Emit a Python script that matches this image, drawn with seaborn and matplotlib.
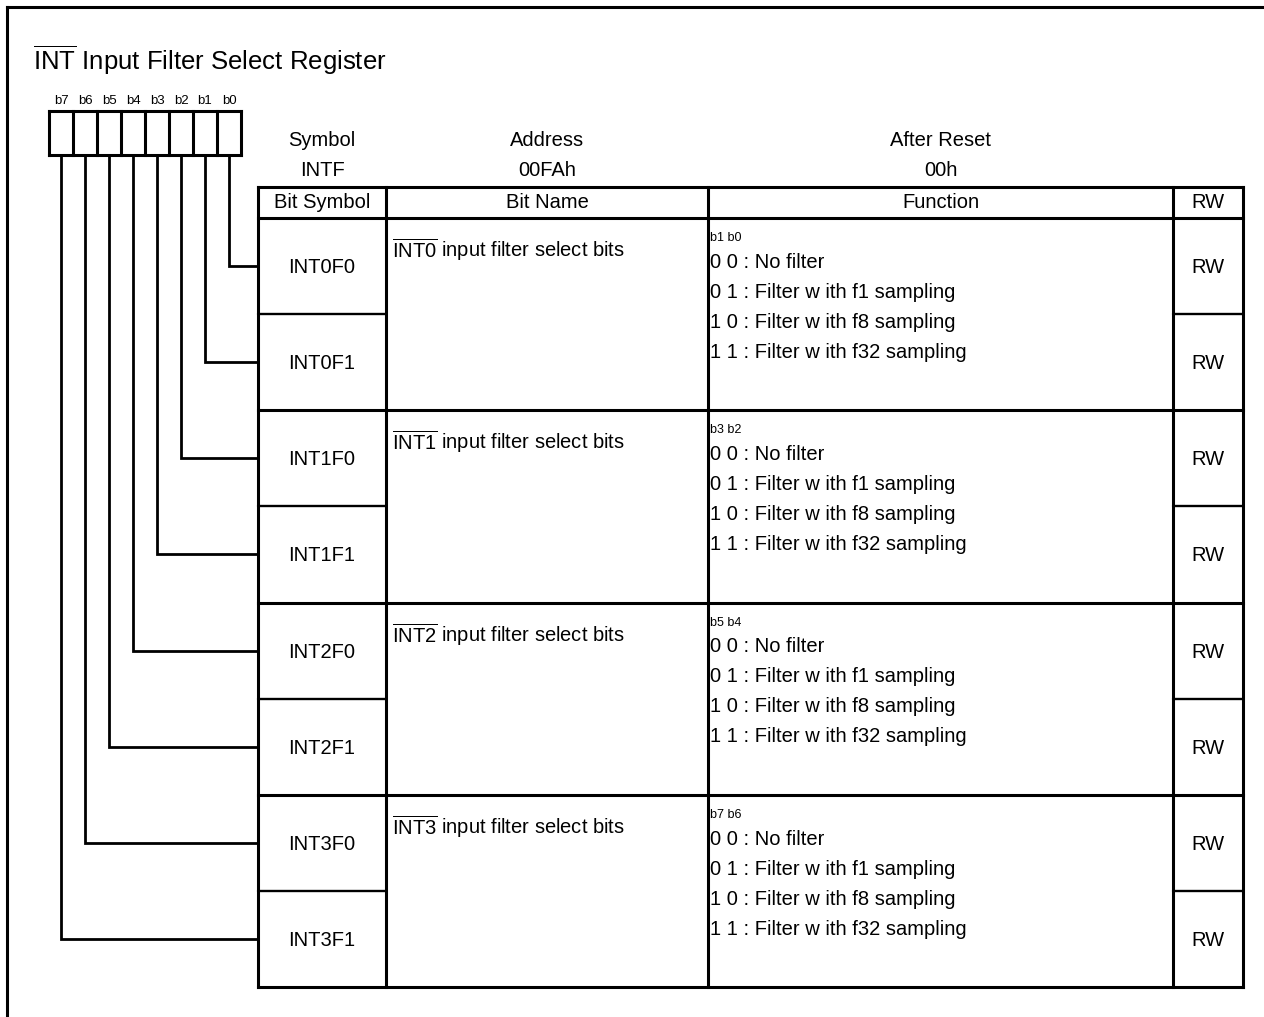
import matplotlib.pyplot as plt
import seaborn as sns

# register description
title_text = r"$\overline{\mathrm{INT}}$ Input Filter Select Register"
bit_labels = ["b7", "b6", "b5", "b4", "b3", "b2", "b1", "b0"]
header_titles = ["Symbol", "Address", "After Reset"]
header_values = ["INTF", "00FAh", "00h"]
column_names = ["Bit Symbol", "Bit Name", "Function", "RW"]
bit_symbols = ["INT0F0", "INT0F1", "INT1F0", "INT1F1",
               "INT2F0", "INT2F1", "INT3F0", "INT3F1"]
bit_names = [r"$\overline{\mathrm{INT0}}$ input filter select bits",
             r"$\overline{\mathrm{INT1}}$ input filter select bits",
             r"$\overline{\mathrm{INT2}}$ input filter select bits",
             r"$\overline{\mathrm{INT3}}$ input filter select bits"]
function_bits = ["b1 b0", "b3 b2", "b5 b4", "b7 b6"]
function_lines = ["0 0 : No filter",
                  "0 1 : Filter w ith f1 sampling",
                  "1 0 : Filter w ith f8 sampling",
                  "1 1 : Filter w ith f32 sampling"]
rw_values = ["RW", "RW", "RW", "RW", "RW", "RW", "RW", "RW"]

# layout (pixel units)
W, H = 1264, 1017
col_edges = [258, 386, 708, 1173, 1243]
header_top, header_bottom, table_bottom = 187, 218, 987
row_h = (table_bottom - header_bottom) / len(bit_symbols)
box_left, box_w, box_top, box_bottom = 49, 24, 111, 155
LW = 2.2
FS = 14.5


def main():
    sns.set_theme(style="white")
    plt.rcParams["font.family"] = ["Liberation Sans", "DejaVu Sans"]
    plt.rcParams["mathtext.fontset"] = "custom"
    plt.rcParams["mathtext.rm"] = "Liberation Sans"
    plt.rcParams["text.color"] = "black"

    fig = plt.figure(figsize=(W / 100, H / 100), dpi=100)
    ax = fig.add_axes([0, 0, 1, 1])
    ax.set_xlim(0, W)
    ax.set_ylim(H, 0)
    ax.axis("off")
    line = dict(color="black", lw=LW, solid_capstyle="projecting")

    # frame (top and left only)
    ax.plot([7, W], [7, 7], **line)
    ax.plot([7, 7], [7, H], **line)

    ax.text(33, 70, title_text, fontsize=18.5, ha="left", va="baseline")

    # bit boxes
    n_bits = len(bit_labels)
    ax.plot([box_left, box_left + n_bits * box_w], [box_top, box_top], **line)
    ax.plot([box_left, box_left + n_bits * box_w], [box_bottom, box_bottom], **line)
    for j in range(n_bits + 1):
        x = box_left + j * box_w
        ax.plot([x, x], [box_top, box_bottom], **line)
    for j, lab in enumerate(bit_labels):
        xc = box_left + (j + 0.5) * box_w
        ax.text(xc, 104, lab, fontsize=9.5, ha="center", va="baseline")
        bit_no = n_bits - 1 - j
        yc = header_bottom + (bit_no + 0.5) * row_h
        ax.plot([xc, xc, col_edges[0]], [box_bottom, yc, yc],
                color="black", lw=2.0, solid_joinstyle="miter")

    # header above table
    for k in range(3):
        xc = (col_edges[k] + col_edges[k + 1]) / 2
        ax.text(xc, 146, header_titles[k], fontsize=FS, ha="center", va="baseline")
        ax.text(xc, 176, header_values[k], fontsize=FS, ha="center", va="baseline")

    # table header row
    ax.plot([col_edges[0], col_edges[-1]], [header_top, header_top], **line)
    ax.plot([col_edges[0], col_edges[-1]], [header_bottom, header_bottom], **line)
    for k, name in enumerate(column_names):
        xc = (col_edges[k] + col_edges[k + 1]) / 2
        ax.text(xc, 208, name, fontsize=FS, ha="center", va="baseline")
    for x in col_edges:
        ax.plot([x, x], [header_top, table_bottom], **line)

    # rows
    for i, sym in enumerate(bit_symbols):
        top = header_bottom + i * row_h
        yc = top + row_h / 2
        ax.text((col_edges[0] + col_edges[1]) / 2, yc + 7, sym, fontsize=FS,
                ha="center", va="baseline")
        ax.text((col_edges[3] + col_edges[4]) / 2, yc + 7, rw_values[i], fontsize=FS,
                ha="center", va="baseline")
        bottom = top + row_h
        if i % 2 == 0:
            ax.plot(col_edges[0:2], [bottom, bottom], color="black", lw=1.7)
            ax.plot(col_edges[3:5], [bottom, bottom], color="black", lw=1.7)
        else:
            ax.plot([col_edges[0], col_edges[-1]], [bottom, bottom], **line)

    # groups: bit name and function
    for g, name in enumerate(bit_names):
        top = header_bottom + 2 * g * row_h
        ax.text(col_edges[1] + 6, top + 39, name, fontsize=FS, ha="left", va="baseline")
        ax.text(col_edges[2] + 2, top + 23, function_bits[g], fontsize=9,
                ha="left", va="baseline")
        for k, txt in enumerate(function_lines):
            ax.text(col_edges[2] + 2, top + 50 + 30 * k, txt, fontsize=FS,
                    ha="left", va="baseline")

    fig.savefig("out.png", dpi=100)


if __name__ == "__main__":
    main()
